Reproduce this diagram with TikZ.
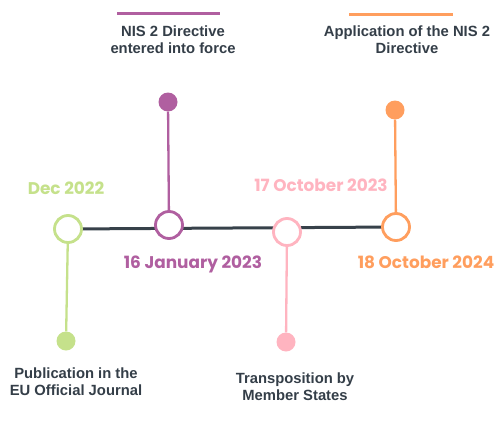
\documentclass[tikz,border=0pt]{standalone}
\usepackage{fontspec}
\setmainfont{Liberation Sans}
\newfontfamily\datefont{Poppins}
\usetikzlibrary{backgrounds}
\definecolor{cgreen}{RGB}{197,225,139}
\definecolor{cpurple}{RGB}{176,95,160}
\definecolor{cpink}{RGB}{255,180,192}
\definecolor{corange}{RGB}{255,158,94}
\definecolor{cdark}{RGB}{55,65,74}
\definecolor{ctext}{RGB}{52,62,72}
\begin{document}
\begin{tikzpicture}[x=1pt,y=-1pt,
  ring/.style={circle,draw=#1,line width=2.8pt,minimum size=27pt,inner sep=0pt,fill=white},
  dot/.style={circle,fill=#1,minimum size=19pt,inner sep=0pt},
  stem/.style={draw=#1,line width=2.3pt},
  datelab/.style={text=#1,font=\datefont\bfseries\fontsize{16.9}{19}\selectfont,inner sep=0pt},
  desc/.style={text=ctext,font=\bfseries\fontsize{14.8}{17}\selectfont,align=center,inner sep=0pt},
  bar/.style={draw=#1,line width=3pt}]
\useasboundingbox (0,0) rectangle (495,439);
% rings
\node[ring=cgreen] (g) at (68,229) {};
\node[ring=cpurple] (p) at (169,225) {};
\node[ring=cpink] (k) at (287,232) {};
\node[ring=corange] (o) at (396,227) {};
\begin{pgfonlayer}{background}
\draw[cdark,line width=3pt] (g.center) -- (o.center);
\end{pgfonlayer}
% dots
\node[dot=cgreen] (gd) at (66,341) {};
\node[dot=cpurple] (pd) at (168,102) {};
\node[dot=cpink] (kd) at (286,342) {};
\node[dot=corange] (od) at (395,110) {};
% stems
\draw[stem=cgreen] (g) -- (gd);
\draw[stem=cpurple] (p) -- (pd);
\draw[stem=cpink] (k) -- (kd);
\draw[stem=corange] (o) -- (od);
% dates
\node[datelab=cgreen] (gdate) at (66,188) {Dec 2022};
\node[datelab=cpurple] (pdate) at (193,264) {16 January 2023};
\node[datelab=cpink] (kdate) at (321,185) {17 October 2023};
\node[datelab=corange] (odate) at (426,262) {18 October 2024};
% descriptions
\node[desc] (ptext) at (173,40) {NIS 2 Directive\\entered into force};
\node[desc] (otext) at (407,40) {Application of the NIS 2\\Directive};
\node[desc] (gtext) at (76,382) {Publication in the\\EU Official Journal};
\node[desc] (ktext) at (295,387) {Transposition by\\Member States};
% bars
\draw[bar=cpurple] (117,13) -- (220,13);
\draw[bar=corange] (349,14) -- (453,14);
\end{tikzpicture}
\end{document}
